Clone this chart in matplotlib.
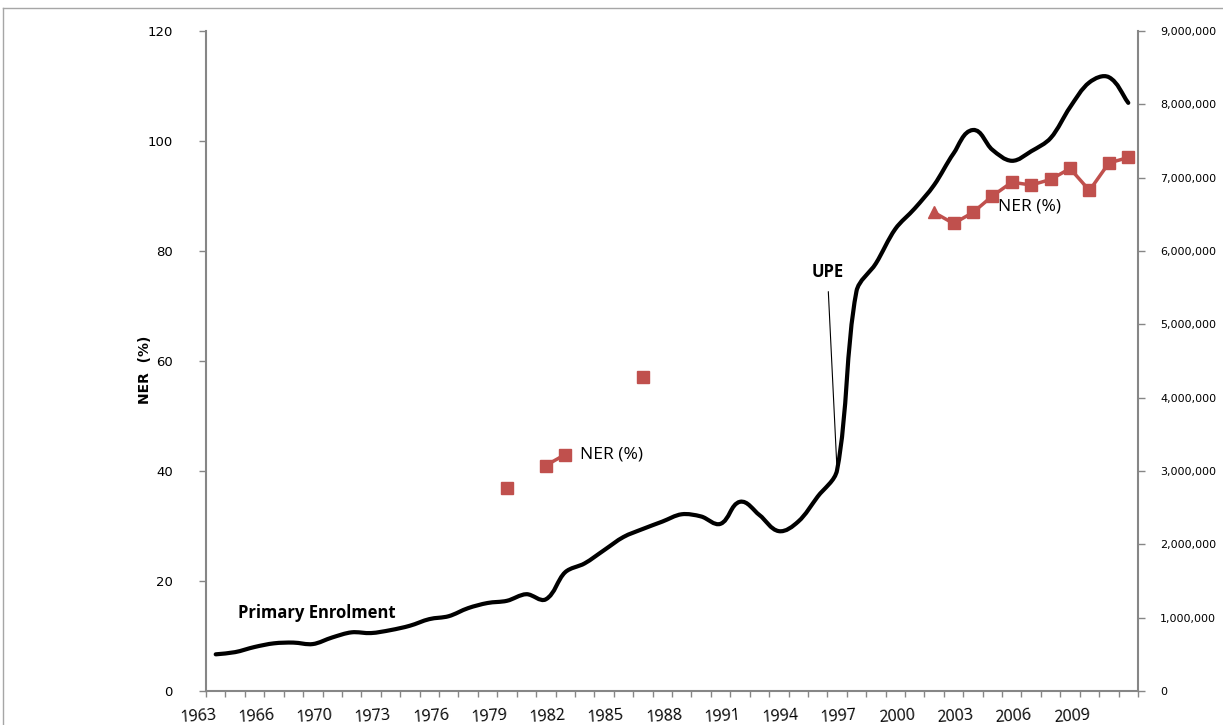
import numpy as np
import matplotlib
matplotlib.use('Agg')
import matplotlib.pyplot as plt
from matplotlib.path import Path
from matplotlib.patches import PathPatch
from matplotlib.lines import Line2D
from matplotlib.ticker import FuncFormatter, MultipleLocator, FixedLocator

# categories (1967 is not in the series)
years = [1963, 1964, 1965, 1966, 1968, 1969] + list(range(1970, 2012))

# primary enrolment (right axis)
enrolment = [500000, 530000, 600000, 650000, 660000, 640000, 730000, 800000,
             790000, 830000, 890000, 980000, 1020000, 1130000, 1200000, 1230000,
             1320000, 1250000, 1620000, 1740000, 1920000, 2100000, 2210000, 2310000,
             2410000, 2380000, 2280000, 2580000, 2400000, 2180000, 2310000, 2650000,
             3010000, 5450000, 5830000, 6300000, 6580000, 6900000, 7330000, 7650000,
             7380000, 7230000, 7360000, 7540000, 7960000, 8300000, 8370000, 8020000]

# net enrolment ratio (left axis)
ner_years = [1979, 1981, 1982, 1986, 2001, 2002, 2003, 2004, 2005, 2006,
             2007, 2008, 2009, 2010, 2011]
ner_values = [37, 41, 43, 57, 87, 85, 87, 90, 92.5, 92, 93, 95, 91, 96, 97]

tick_years = years[::3]

gray = '#868686'
red = '#C0504D'

x = np.arange(len(years))
ner = np.full(len(years), np.nan)
for yr, v in zip(ner_years, ner_values):
    ner[years.index(yr)] = v


def smooth_path(xs, ys, sx, sy, k=0.33):
    # Excel-like smoothed line: bezier segments, tangents worked out in pixel space
    px = np.asarray(xs, float) * sx
    py = np.asarray(ys, float) * sy
    n = len(px)
    tang = []
    for i in range(n):
        a = max(i - 1, 0)
        b = min(i + 1, n - 1)
        t = np.array([px[b] - px[a], py[b] - py[a]])
        tang.append(t / np.hypot(*t))
    verts = [(xs[0], ys[0])]
    codes = [Path.MOVETO]
    for i in range(n - 1):
        d = np.hypot(px[i + 1] - px[i], py[i + 1] - py[i]) * k
        c1 = (px[i] + tang[i][0] * d, py[i] + tang[i][1] * d)
        c2 = (px[i + 1] - tang[i + 1][0] * d, py[i + 1] - tang[i + 1][1] * d)
        verts += [(c1[0] / sx, c1[1] / sy), (c2[0] / sx, c2[1] / sy), (xs[i + 1], ys[i + 1])]
        codes += [Path.CURVE4] * 3
    return Path(verts, codes)


fig = plt.figure(figsize=(12.23, 7.25), dpi=100)
ax = fig.add_axes([206 / 1223, 34 / 725, 932 / 1223, 660 / 725])
ax2 = ax.twinx()

ax.set_xlim(-0.5, len(years) - 0.5)
ax.set_ylim(0, 120)
ax2.set_ylim(0, 9000000)

# NER series
first_2001 = years.index(2001)
marks = [i for i in range(len(years)) if not np.isnan(ner[i]) and i != first_2001]
ax.plot(x, ner, color=red, lw=2.5, marker='s', ms=9, markevery=marks, zorder=3)
ax.plot(x[first_2001], ner[first_2001], color=red, marker='^', ms=9, zorder=3)

# enrolment series (pixel scale of the axes for the smoothing)
sx = 932 / len(years)
sy = 660 / 9000000
ax2.add_patch(PathPatch(smooth_path(x, np.array(enrolment, dtype=float), sx, sy),
                        fill=False, lw=3, edgecolor='black', capstyle='round',
                        joinstyle='round', zorder=4))

ax.yaxis.set_major_locator(MultipleLocator(20))
ax2.yaxis.set_major_locator(MultipleLocator(1000000))
ax2.yaxis.set_major_formatter(FuncFormatter(lambda v, p: f'{v:,.0f}'))

ax.set_xticks(x[::3])
ax.set_xticklabels([str(t) for t in tick_years])
ax.xaxis.set_minor_locator(FixedLocator(np.arange(-0.5, len(years), 1)))
ax.tick_params(axis='x', which='major', length=0, pad=12, labelsize=11.5)
ax.tick_params(axis='x', which='minor', length=4, width=1, color=gray, direction='out')
for lab in ax.get_xticklabels():
    lab.set_fontfamily('Open Sans')
    lab.set_rotation(4)
    lab.set_ha('right')
    lab.set_rotation_mode('anchor')

ax.tick_params(axis='y', length=5, width=1, color=gray, labelsize=9.5, pad=19)
ax2.tick_params(axis='y', length=5, width=1, color=gray, labelsize=8, pad=11)

for s in ['top', 'right']:
    ax.spines[s].set_visible(False)
for s in ['top', 'left', 'bottom']:
    ax2.spines[s].set_visible(False)
ax.spines['left'].set_color(gray)
ax.spines['bottom'].set_color(gray)
ax2.spines['right'].set_color(gray)
for s in [ax.spines['left'], ax.spines['bottom'], ax2.spines['right']]:
    s.set_linewidth(1.5)

ax.set_ylabel('NER  (%)', fontsize=10, fontweight='bold',
              family=['Liberation Sans Narrow', 'DejaVu Sans'])
ax.yaxis.set_label_coords(-0.058, 0.486)

# labels
ax.annotate('NER (%)', xy=(years.index(1982), ner[years.index(1982)]),
            xytext=(11, 0), textcoords='offset points', ha='left', va='center',
            fontsize=12.5, family='Open Sans')
ax.annotate('NER (%)', xy=(years.index(2004), ner[years.index(2004)]),
            xytext=(4, -7.5), textcoords='offset points', ha='left', va='center',
            fontsize=12.5, family='Open Sans')
ax2.text(1.15, 1.07e6, 'Primary Enrolment', fontsize=12, fontweight='bold',
         family='Open Sans', ha='left', va='center')
ax2.annotate('UPE', xy=(32, enrolment[32]), xytext=(31.5, 5.72e6),
             ha='center', va='center', fontsize=12, fontweight='bold', family='Open Sans',
             arrowprops=dict(arrowstyle='-', lw=0.8, color='black', shrinkA=6, shrinkB=0))

# chart border
fig.add_artist(Line2D([3 / 1223, 1], [1 - 8 / 725, 1 - 8 / 725], color='#A6A6A6', lw=1))
fig.add_artist(Line2D([3 / 1223, 3 / 1223], [0, 1 - 8 / 725], color='#A6A6A6', lw=1))

fig.savefig('out.png', dpi=100)
